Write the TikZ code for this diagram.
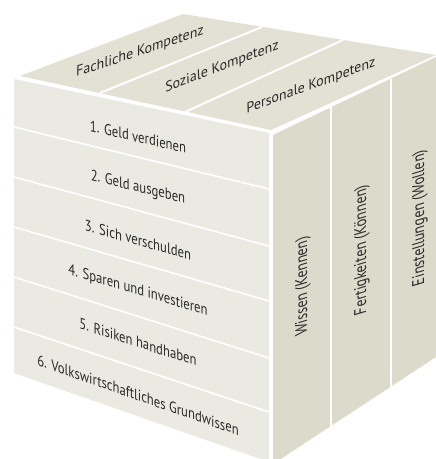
\documentclass[tikz,border=0pt]{standalone}
\usepackage{fontspec}
\setmainfont[FakeStretch=0.82]{PT Sans}
\definecolor{frontgray}{HTML}{EBEAE2}
\definecolor{sidegray}{HTML}{DCDACA}
\definecolor{topgray}{HTML}{E3E1D4}
\definecolor{inkgray}{HTML}{2B2B2B}
\tikzset{
  frontface/.style={fill=frontgray},
  sideface/.style={fill=sidegray},
  topface/.style={fill=topgray},
  seam/.style={draw=white, line width=1.6pt},
  rowlabel/.style={text=inkgray, inner sep=0pt, transform shape, font=\fontsize{15.5}{17}\selectfont},
  collabel/.style={rowlabel, rotate=90, xslant=-0.3, font=\fontsize{17}{19}\selectfont},
  toplabel/.style={rowlabel, xslant=0.4, font=\fontsize{15.8}{17}\selectfont}
}
\begin{document}
\begin{tikzpicture}[x=1pt, y=-1pt]
  \fill[white] (0,0) rectangle (436,459);
  \clip (0,0) rectangle (436,459);

  % the three faces
  \fill[frontface] (14,79) -- (269,133) -- (269,462) -- (14,373) -- cycle;
  \fill[sideface] (273,135) -- (436,57) -- (436,357) -- (273,464) -- cycle;
  \fill[topface] (20,76) -- (183,14) -- (436,55) -- (271,130) -- cycle;

  % rows on the front
  \foreach \ly/\ry in {127/189, 177/246, 227/301, 277/358, 327/412}
    \draw[seam] (14,\ly) -- (269,\ry);

  % columns on the side
  \draw[seam, line width=1.3pt] (331,107) -- (331,427);
  \draw[seam, line width=1.3pt] (391,79) -- (391,387);

  % strips on top
  \draw[seam, line width=2pt] (100,93) -- (262,27);
  \draw[seam, line width=2pt] (185,112) -- (343,40);

  % labels
  \foreach \txt/\yy/\sl [count=\i] in {
      1. Geld verdienen/137/0.23,
      2. Geld ausgeben/188/0.25,
      3. Sich verschulden/240/0.28,
      4. Sparen und investieren/291/0.30,
      5. Risiken handhaben/342/0.32,
      6. Volkswirtschaftliches Grundwissen/395/0.35}
    \node[rowlabel, yslant=-\sl] (row\i) at (138,\yy) {\txt};

  \node[collabel] (wissen) at (303,286) {Wissen (Kennen)};
  \node[collabel] (fertig) at (362,250) {Fertigkeiten (Können)};
  \node[collabel] (einst) at (420,218) {Einstellungen (Wollen)};

  \node[toplabel, rotate=21] (fach) at (140,52) {Fachliche Kompetenz};
  \node[toplabel, rotate=24] (sozial) at (222,67) {Soziale Kompetenz};
  \node[toplabel, rotate=23] (person) at (311,86) {Personale Kompetenz};
\end{tikzpicture}
\end{document}
